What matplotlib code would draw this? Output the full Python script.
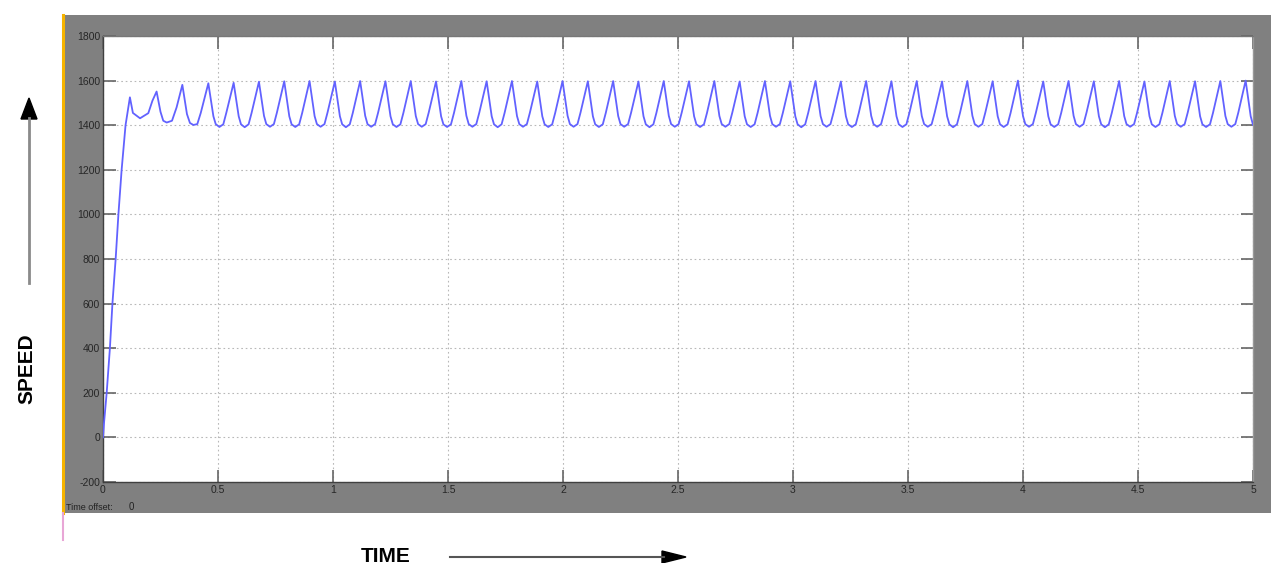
import matplotlib
matplotlib.use("Agg")
import matplotlib.pyplot as plt
from matplotlib.patches import Rectangle
import numpy as np

# start-up transient (time in s, speed)
t_start = [0.0, 0.004, 0.016, 0.030, 0.041, 0.055, 0.067, 0.081, 0.098, 0.117,
           0.130, 0.161, 0.197, 0.215, 0.233, 0.250, 0.262, 0.277, 0.300, 0.320,
           0.345, 0.365, 0.378, 0.393, 0.410, 0.425]
v_start = [0, 60, 200, 400, 600, 800, 1000, 1200, 1400, 1525,
           1455, 1431, 1454, 1510, 1551, 1460, 1420, 1412, 1420, 1480,
           1581, 1450, 1410, 1401, 1405, 1455]

# steady oscillation, one row per cycle: peak, fall, trough, rise
t_osc = [
    0.458, 0.480, 0.490, 0.506, 0.523, 0.536,
    0.568, 0.590, 0.600, 0.616, 0.633, 0.646,
    0.678, 0.700, 0.710, 0.726, 0.743, 0.756,
    0.788, 0.810, 0.820, 0.836, 0.853, 0.866,
    0.898, 0.920, 0.930, 0.946, 0.963, 0.976,
    1.008, 1.030, 1.040, 1.056, 1.073, 1.086,
    1.118, 1.140, 1.150, 1.166, 1.183, 1.196,
    1.228, 1.250, 1.260, 1.276, 1.293, 1.306,
    1.338, 1.360, 1.370, 1.386, 1.403, 1.416,
    1.448, 1.470, 1.480, 1.496, 1.513, 1.526,
    1.558, 1.580, 1.590, 1.606, 1.623, 1.636,
    1.668, 1.690, 1.700, 1.716, 1.733, 1.746,
    1.778, 1.800, 1.810, 1.826, 1.843, 1.856,
    1.888, 1.910, 1.920, 1.936, 1.953, 1.966,
    1.998, 2.020, 2.030, 2.046, 2.063, 2.076,
    2.108, 2.130, 2.140, 2.156, 2.173, 2.186,
    2.218, 2.240, 2.250, 2.266, 2.283, 2.296,
    2.328, 2.350, 2.360, 2.376, 2.393, 2.406,
    2.438, 2.460, 2.470, 2.486, 2.503, 2.516,
    2.548, 2.570, 2.580, 2.596, 2.613, 2.626,
    2.658, 2.680, 2.690, 2.706, 2.723, 2.736,
    2.768, 2.790, 2.800, 2.816, 2.833, 2.846,
    2.878, 2.900, 2.910, 2.926, 2.943, 2.956,
    2.988, 3.010, 3.020, 3.036, 3.053, 3.066,
    3.098, 3.120, 3.130, 3.146, 3.163, 3.176,
    3.208, 3.230, 3.240, 3.256, 3.273, 3.286,
    3.318, 3.340, 3.350, 3.366, 3.383, 3.396,
    3.428, 3.450, 3.460, 3.476, 3.493, 3.506,
    3.538, 3.560, 3.570, 3.586, 3.603, 3.616,
    3.648, 3.670, 3.680, 3.696, 3.713, 3.726,
    3.758, 3.780, 3.790, 3.806, 3.823, 3.836,
    3.868, 3.890, 3.900, 3.916, 3.933, 3.946,
    3.978, 4.000, 4.010, 4.026, 4.043, 4.056,
    4.088, 4.110, 4.120, 4.136, 4.153, 4.166,
    4.198, 4.220, 4.230, 4.246, 4.263, 4.276,
    4.308, 4.330, 4.340, 4.356, 4.373, 4.386,
    4.418, 4.440, 4.450, 4.466, 4.483, 4.496,
    4.528, 4.550, 4.560, 4.576, 4.593, 4.606,
    4.638, 4.660, 4.670, 4.686, 4.703, 4.716,
    4.748, 4.770, 4.780, 4.796, 4.813, 4.826,
    4.858, 4.880, 4.890, 4.906, 4.923, 4.936,
    4.968, 4.990, 5.000,
]
v_osc = [
    1588, 1440, 1405, 1392, 1404, 1455,
    1590, 1440, 1404, 1391, 1404, 1455,
    1595, 1442, 1405, 1393, 1405, 1456,
    1597, 1440, 1404, 1392, 1404, 1455,
    1598, 1441, 1405, 1393, 1405, 1456,
    1596, 1440, 1404, 1391, 1404, 1455,
    1598, 1442, 1405, 1393, 1405, 1456,
    1597, 1440, 1404, 1392, 1404, 1455,
    1598, 1441, 1405, 1393, 1405, 1456,
    1596, 1440, 1404, 1392, 1404, 1455,
    1598, 1442, 1405, 1393, 1405, 1456,
    1597, 1440, 1404, 1391, 1404, 1455,
    1598, 1441, 1405, 1393, 1405, 1456,
    1596, 1440, 1404, 1392, 1404, 1455,
    1598, 1442, 1405, 1393, 1405, 1456,
    1597, 1440, 1404, 1392, 1404, 1455,
    1598, 1441, 1405, 1393, 1405, 1456,
    1596, 1440, 1404, 1391, 1404, 1455,
    1598, 1442, 1405, 1393, 1405, 1456,
    1597, 1440, 1404, 1392, 1404, 1455,
    1598, 1441, 1405, 1393, 1405, 1456,
    1596, 1440, 1404, 1392, 1404, 1455,
    1598, 1442, 1405, 1393, 1405, 1456,
    1597, 1440, 1404, 1391, 1404, 1455,
    1598, 1441, 1405, 1393, 1405, 1456,
    1596, 1440, 1404, 1392, 1404, 1455,
    1598, 1442, 1405, 1393, 1405, 1456,
    1597, 1440, 1404, 1392, 1404, 1455,
    1598, 1441, 1405, 1393, 1405, 1456,
    1596, 1440, 1404, 1391, 1404, 1455,
    1598, 1442, 1405, 1393, 1405, 1456,
    1597, 1440, 1404, 1392, 1404, 1455,
    1600, 1441, 1405, 1393, 1405, 1456,
    1596, 1440, 1404, 1392, 1404, 1455,
    1598, 1442, 1405, 1393, 1405, 1456,
    1597, 1440, 1404, 1391, 1404, 1455,
    1598, 1441, 1405, 1393, 1405, 1456,
    1596, 1440, 1404, 1392, 1404, 1455,
    1598, 1442, 1405, 1393, 1405, 1456,
    1597, 1440, 1404, 1392, 1404, 1455,
    1598, 1441, 1405, 1393, 1405, 1456,
    1600, 1440, 1402,
]

time = np.array(t_start + t_osc)
speed = np.array(v_start + v_osc)

x_ticks = [0, 0.5, 1, 1.5, 2, 2.5, 3, 3.5, 4, 4.5, 5]
x_labels = ["0", "0.5", "1", "1.5", "2", "2.5", "3", "3.5", "4", "4.5", "5"]
y_ticks = [-200, 0, 200, 400, 600, 800, 1000, 1200, 1400, 1600, 1800]

W, H = 1271, 563
plt.rcParams["font.family"] = ["Liberation Sans", "DejaVu Sans"]
plt.rcParams["axes.unicode_minus"] = False
fig = plt.figure(figsize=(W / 100, H / 100), dpi=100)
fig.patch.set_facecolor("white")


def px(x0, y0, x1, y1):
    # pixel box (top-left origin) -> figure fraction rect
    return [x0 / W, 1 - y1 / H, (x1 - x0) / W, (y1 - y0) / H]


# grey scope panel behind the axes
r = px(63, 15, 1271, 513)
fig.add_artist(Rectangle((r[0], r[1]), r[2], r[3], transform=fig.transFigure,
                         facecolor="#808080", edgecolor="none", zorder=-10))
# yellow / pink left edge
fig.add_artist(plt.Line2D([63.5 / W, 63.5 / W], [1 - 15 / H, 1 - 513 / H],
                          color="#f6b400", lw=2.2, transform=fig.transFigure, zorder=-5))
fig.add_artist(plt.Line2D([63.5 / W, 63.5 / W], [1 - 513 / H, 1 - 540 / H],
                          color="#e8a6d6", lw=1.5, transform=fig.transFigure, zorder=-5))

ax = fig.add_axes(px(103, 36, 1253, 482))
ax.set_zorder(5)
ax.set_facecolor("white")
ax.plot(time, speed, color="#6262ff", lw=1.3, zorder=3)
ax.set_xlim(0, 5)
ax.set_ylim(-200, 1800)
ax.set_xticks(x_ticks)
ax.set_xticklabels(x_labels)
ax.set_yticks(y_ticks)
ax.grid(True, color="#b8b8b8", linestyle=(0, (1.5, 2.5)), lw=0.8)
ax.tick_params(direction="in", length=9, width=1.2, color="#666666",
               labelsize=7.5, labelcolor="#262626", top=True, right=True, pad=2)
for s in ax.spines.values():
    s.set_color("#404040")
    s.set_linewidth(1.0)
ax.spines["top"].set_color("#777777")
ax.spines["right"].set_color("#999999")

fig.text(66 / W, 1 - 507 / H, "Time offset:", fontsize=6.5, color="#222222",
         va="center", ha="left", zorder=6)
fig.text(129 / W, 1 - 507 / H, "0", fontsize=7, color="#222222",
         va="center", ha="left", zorder=6)

# axis captions with arrows
fig.text(27 / W, 1 - 369 / H, "SPEED", rotation=90, fontsize=15, fontweight="bold",
         ha="center", va="center", color="black")
fig.add_artist(plt.Line2D([29 / W, 29 / W], [1 - 283 / H, 1 - 118 / H],
                          color="#8a8a8a", lw=2, transform=fig.transFigure))
fig.add_artist(plt.Polygon([[21 / W, 1 - 119 / H], [37 / W, 1 - 119 / H],
                            [29 / W, 1 - 98 / H]], closed=True,
                           transform=fig.transFigure, color="black"))

fig.text(386 / W, 1 - 556 / H, "TIME", fontsize=15, fontweight="bold",
         ha="center", va="center", color="black")
fig.add_artist(plt.Line2D([450 / W, 664 / W], [1 - 557 / H, 1 - 557 / H],
                          color="#555555", lw=1.5, transform=fig.transFigure))
fig.add_artist(plt.Polygon([[662 / W, 1 - 551 / H], [662 / W, 1 - 563 / H],
                            [686 / W, 1 - 557 / H]], closed=True,
                           transform=fig.transFigure, color="black"))

fig.savefig("out.png", dpi=100)
